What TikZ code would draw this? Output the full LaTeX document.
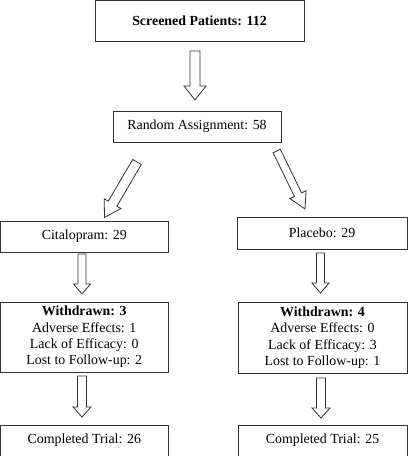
\documentclass[tikz,border=0pt]{standalone}
\usepackage{fontspec}
\setmainfont{Liberation Serif}
\usetikzlibrary{calc}
\tikzset{
  box/.style={draw=black!80, line width=0.9pt, inner sep=0pt, align=center,
    font=\fontsize{13.9}{16.4}\selectfont, anchor=center},
  blk/.style={draw=black!80, line width=0.8pt, fill=white, line join=miter},
}
% #1 start, #2 tip, #3 shaft half width, #4 head half width, #5 head length
\newcommand\blockarr[5]{%
  \coordinate (tmpB) at ($(#2)!#5!(#1)$);
  \draw[blk] ($(#1)!#3!90:(#2)$) -- ($(tmpB)!#3!90:(#2)$) -- ($(tmpB)!#4!90:(#2)$)
    -- (#2) -- ($(tmpB)!#4!-90:(#2)$) -- ($(tmpB)!#3!-90:(#2)$)
    -- ($(#1)!#3!-90:(#2)$) -- cycle;
}
\begin{document}
\begin{tikzpicture}[x=1pt,y=-1pt]
\useasboundingbox (0,0) rectangle (408,456);
\fill[white] (0,0) rectangle (408,456);

\node[box, minimum width=209pt, minimum height=40.5pt] (scr) at (199.5,20.75) {\textbf{Screened Patients: 112}};
\node[box, minimum width=168pt, minimum height=31pt] (rnd) at (197,126.5) {Random Assignment: 58};
\node[box, minimum width=167.5pt, minimum height=31pt] (cit) at (84.25,236.5) {Citalopram: 29};
\node[box, minimum width=170pt, minimum height=32pt] (pla) at (322,233) {Placebo: 29};
\node[box, minimum width=167.5pt, minimum height=70pt] (wl) at (84.25,337) {\textbf{Withdrawn: 3}\\Adverse Effects: 1\\Lack of Efficacy: 0\\Lost to Follow-up: 2};
\node[box, minimum width=169pt, minimum height=71pt] (wr) at (322.5,337.5) {\textbf{Withdrawn: 4}\\Adverse Effects: 0\\Lack of Efficacy: 3\\Lost to Follow-up: 1};
\node[box, minimum width=167.5pt, minimum height=31pt] (cl) at (84.25,440.5) {Completed Trial: 26};
\node[box, minimum width=169pt, minimum height=31pt] (cr) at (322.5,440.5) {Completed Trial: 25};

\coordinate (a1s) at (195,51);   \coordinate (a1t) at (195,100);
\coordinate (a2s) at (137,162);  \coordinate (a2t) at (104.5,217.5);
\coordinate (a3s) at (276.7,151); \coordinate (a3t) at (305,209);
\coordinate (a4s) at (82,254);   \coordinate (a4t) at (82,294);
\coordinate (a5s) at (320.5,253); \coordinate (a5t) at (320.5,293);
\coordinate (a6s) at (82,376);   \coordinate (a6t) at (82,417);
\coordinate (a7s) at (321,378);  \coordinate (a7t) at (321,418);

\blockarr{a1s}{a1t}{5pt}{11pt}{14pt}
\blockarr{a2s}{a2t}{5pt}{9.7pt}{16pt}
\blockarr{a3s}{a3t}{4pt}{9pt}{16pt}
\blockarr{a4s}{a4t}{4pt}{8.5pt}{10pt}
\blockarr{a5s}{a5t}{4pt}{8.5pt}{10pt}
\blockarr{a6s}{a6t}{4.5pt}{9pt}{10pt}
\blockarr{a7s}{a7t}{4.5pt}{9pt}{10pt}
\end{tikzpicture}
\end{document}
